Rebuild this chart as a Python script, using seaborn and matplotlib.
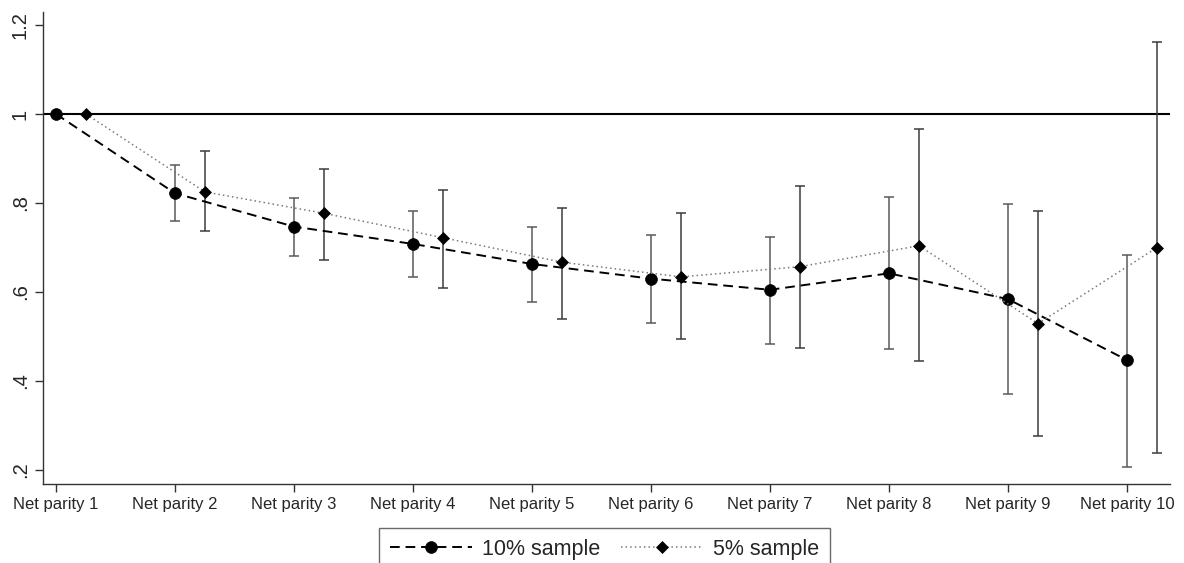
import numpy as np
import pandas as pd
import matplotlib
matplotlib.use("Agg")
import matplotlib.pyplot as plt
import seaborn as sns

categories = ["Net parity 1", "Net parity 2", "Net parity 3", "Net parity 4", "Net parity 5",
              "Net parity 6", "Net parity 7", "Net parity 8", "Net parity 9", "Net parity 10"]

s10 = [1.0, 0.822, 0.747, 0.708, 0.663, 0.630, 0.605, 0.642, 0.584, 0.447]
s10_lo = [np.nan, 0.760, 0.681, 0.633, 0.578, 0.531, 0.483, 0.471, 0.370, 0.207]
s10_hi = [np.nan, 0.885, 0.812, 0.783, 0.747, 0.728, 0.723, 0.813, 0.798, 0.683]

s5 = [1.0, 0.825, 0.777, 0.722, 0.667, 0.634, 0.657, 0.704, 0.529, 0.700]
s5_lo = [np.nan, 0.736, 0.673, 0.609, 0.540, 0.495, 0.474, 0.446, 0.276, 0.239]
s5_hi = [np.nan, 0.917, 0.876, 0.829, 0.788, 0.778, 0.839, 0.966, 0.782, 1.162]

ytick_vals = [0.2, 0.4, 0.6, 0.8, 1.0, 1.2]
ytick_labels = [".2", ".4", ".6", ".8", "1", "1.2"]
series_names = ["10% sample", "5% sample"]

sns.set_theme(style="ticks")
plt.rcParams["font.family"] = ["Liberation Sans", "DejaVu Sans"]

fig = plt.figure(figsize=(11.84, 5.63), dpi=100)
ax = fig.add_axes([43 / 1184, 1 - 484 / 563, (1170 - 43) / 1184, (484 - 11.7) / 563])

pos = np.arange(len(categories))
offset = 0.252
df10 = pd.DataFrame({"x": pos, "y": s10, "lo": s10_lo, "hi": s10_hi})
df5 = pd.DataFrame({"x": pos + offset, "y": s5, "lo": s5_lo, "hi": s5_hi})

# reference line
ax.axhline(1.0, color="black", lw=1.5, zorder=1)

# error bars
for d, col in [(df10, "#5a5a5a"), (df5, "#3c3c3c")]:
    e = d.dropna()
    ax.errorbar(e["x"], e["y"], yerr=[e["y"] - e["lo"], e["hi"] - e["y"]],
                fmt="none", ecolor=col, elinewidth=1.1, capsize=3.8, capthick=1.1, zorder=2)

sns.lineplot(data=df10, x="x", y="y", ax=ax, color="black", lw=1.4,
             linestyle=(0, (5, 3)), marker="o", markersize=8.5,
             markerfacecolor="black", markeredgecolor="black", markeredgewidth=0.5,
             label=series_names[0], zorder=3)
h10 = ax.lines[-1]
sns.lineplot(data=df5, x="x", y="y", ax=ax, color="#7a7a7a", lw=1.1,
             linestyle=(0, (1, 2)), marker="D", markersize=6.5,
             markerfacecolor="black", markeredgecolor="black", markeredgewidth=0.5,
             label=series_names[1], zorder=3)
h5 = ax.lines[-1]
if ax.get_legend() is not None:
    ax.get_legend().remove()

ax.set_xlim(-0.109, 9.361)
ax.set_ylim(0.1685, 1.23)
ax.set_xticks(pos)
ax.set_xticklabels(categories, fontsize=12)
ax.set_yticks(ytick_vals)
ax.set_yticklabels(ytick_labels, fontsize=14.5, rotation=90, va="center")
ax.set_xlabel("")
ax.set_ylabel("")
for s in ["top", "right"]:
    ax.spines[s].set_visible(False)
for s in ["left", "bottom"]:
    ax.spines[s].set_color("#333333")
    ax.spines[s].set_linewidth(1.0)
ax.tick_params(axis="x", length=5.5, width=1, color="#333333", pad=4)
ax.tick_params(axis="y", length=6, width=1, color="#333333", pad=3.5)

leg = fig.legend(handles=[h10, h5], labels=series_names, loc="upper center",
                 bbox_to_anchor=(604.5 / 1184, 1 - 528 / 563), ncol=2, fontsize=15.5,
                 frameon=True, fancybox=False, handlelength=3.8, handletextpad=0.45,
                 columnspacing=1.0, borderpad=0.5, borderaxespad=0)
leg.get_frame().set_edgecolor("#444444")
leg.get_frame().set_linewidth(1.0)

fig.savefig("out.png", dpi=100)
